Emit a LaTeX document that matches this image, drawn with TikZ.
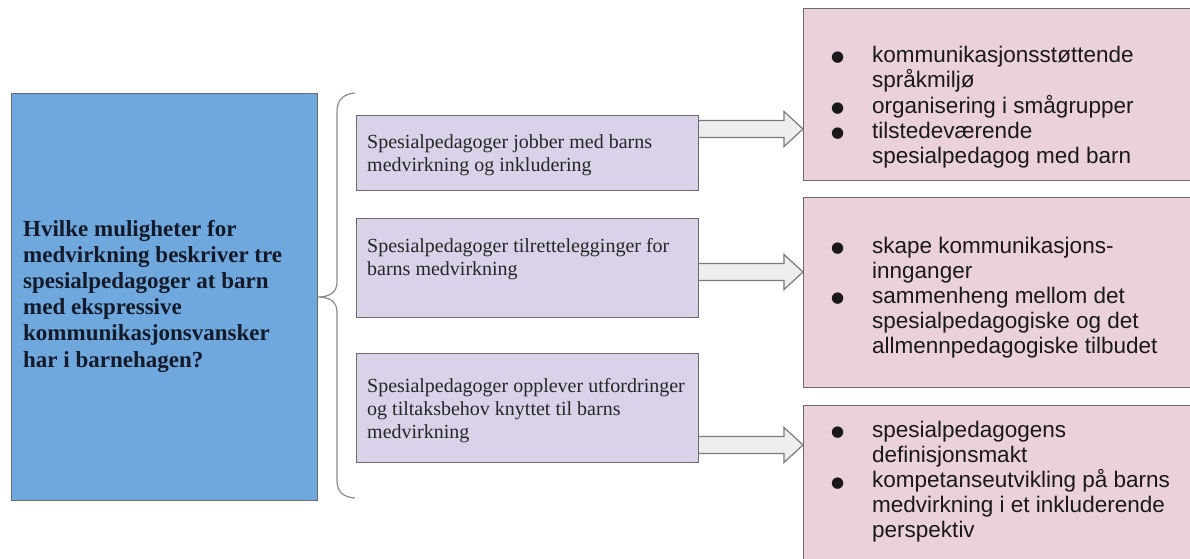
\documentclass[tikz,border=0pt]{standalone}
\usepackage{fontspec}
\setmainfont{Liberation Serif}
\setsansfont{Liberation Sans}
\newfontfamily\bulfont{DejaVu Sans}
\usetikzlibrary{calc}
\definecolor{qblue}{HTML}{6FA8DC}
\definecolor{mlav}{HTML}{D9D2E9}
\definecolor{rpink}{HTML}{EAD1DC}
\definecolor{boxline}{HTML}{6B6B6B}
\definecolor{arrfill}{HTML}{EEEEEE}
\definecolor{arrline}{HTML}{7A7A7A}
\definecolor{bracecol}{HTML}{8A8A8A}
\definecolor{qtext}{HTML}{141A2A}
\newcommand{\bul}{\raisebox{0.5pt}{\bulfont\fontsize{15}{25}\selectfont ●}}
\newcommand{\blockarr}[2]{%
  \filldraw[arrowstyle]
    ($(#1)+(0,-8.5)$) -- ($(#2)+(-19,-8.5)$) -- ($(#2)+(-19,-17.5)$) -- (#2)
    -- ($(#2)+(-19,17.5)$) -- ($(#2)+(-19,8.5)$) -- ($(#1)+(0,8.5)$);}
\begin{document}
\begin{tikzpicture}[x=1pt,y=-1pt,
  boxbase/.style={draw=boxline, line width=1.2pt, anchor=north west, inner sep=0pt},
  qbox/.style={boxbase, fill=qblue},
  midbox/.style={boxbase, fill=mlav},
  resbox/.style={boxbase, fill=rpink},
  qtxt/.style={anchor=base west, inner sep=0pt, text=qtext,
    font=\fontsize{23}{26.2}\selectfont\bfseries},
  midtxt/.style={anchor=base west, inner sep=0pt, text=black!85,
    font=\fontsize{20}{23}\selectfont},
  restxt/.style={anchor=base west, inner sep=0pt, text=black!90,
    font=\sffamily\fontsize{22.5}{25}\selectfont},
  arrowstyle/.style={fill=arrfill, draw=arrline, line width=1.2pt, line join=miter},
  bracestyle/.style={draw=bracecol, line width=1.2pt}]
\useasboundingbox (0,0) rectangle (1190,558);
\clip (0,0) rectangle (1190,558);

% left question box
\node[qbox, minimum width=306pt, minimum height=407pt] (q) at (11,93) {};
\node[qtxt] (qt) at (23,236) {\begin{tabular}[t]{@{}l@{}}
Hvilke muligheter for\\
medvirkning beskriver tre\\
spesialpedagoger at barn\\
med ekspressive\\
kommunikasjonsvansker\\
har i barnehagen?\end{tabular}};

% brace
\draw[bracestyle] (355,93) .. controls (343,94) and (337,100) .. (337,112)
  -- (337,282) .. controls (337,292) and (330,297) .. (318,297)
  .. controls (330,297) and (337,302) .. (337,312)
  -- (337,480) .. controls (337,492) and (343,497) .. (355,498);

% middle boxes
\node[midbox, minimum width=342pt, minimum height=75pt] (m1) at (356,115) {};
\node[midbox, minimum width=342pt, minimum height=99pt] (m2) at (356,218) {};
\node[midbox, minimum width=342pt, minimum height=109pt] (m3) at (356,353) {};
\node[midtxt] (m1t) at (367,148) {\begin{tabular}[t]{@{}l@{}}
Spesialpedagoger jobber med barns\\ medvirkning og inkludering\end{tabular}};
\node[midtxt] (m2t) at (367,252) {\begin{tabular}[t]{@{}l@{}}
Spesialpedagoger tilrettelegginger for\\ barns medvirkning\end{tabular}};
\node[midtxt] (m3t) at (367,392) {\begin{tabular}[t]{@{}l@{}}
Spesialpedagoger opplever utfordringer\\ og tiltaksbehov knyttet til barns\\ medvirkning\end{tabular}};

% right boxes
\node[resbox, minimum width=400pt, minimum height=172pt] (r1) at (803,8) {};
\node[resbox, minimum width=400pt, minimum height=190pt] (r2) at (803,197) {};
\node[resbox, minimum width=400pt, minimum height=170pt] (r3) at (803,405) {};
\node[restxt] (r1t) at (831,62) {\begin{tabular}[t]{@{}p{41pt}@{}l@{}}
\bul & kommunikasjonsstøttende\\
 & språkmiljø\\
\bul & organisering i smågrupper\\
\bul & tilstedeværende\\
 & spesialpedagog med barn\end{tabular}};
\node[restxt] (r2t) at (831,253) {\begin{tabular}[t]{@{}p{41pt}@{}l@{}}
\bul & skape kommunikasjons-\\
 & innganger\\
\bul & sammenheng mellom det\\
 & spesialpedagogiske og det\\
 & allmennpedagogiske tilbudet\end{tabular}};
\node[restxt] (r3t) at (831,437) {\begin{tabular}[t]{@{}p{41pt}@{}l@{}}
\bul & spesialpedagogens\\
 & definisjonsmakt\\
\bul & kompetanseutvikling på barns\\
 & medvirkning i et inkluderende\\
 & perspektiv\end{tabular}};

% block arrows
\coordinate (t1) at (0,129);
\coordinate (t2) at (0,272);
\coordinate (t3) at (0,445);
\blockarr{m1.east |- t1}{r1.west |- t1}
\blockarr{m2.east |- t2}{r2.west |- t2}
\blockarr{m3.east |- t3}{r3.west |- t3}
\end{tikzpicture}
\end{document}
